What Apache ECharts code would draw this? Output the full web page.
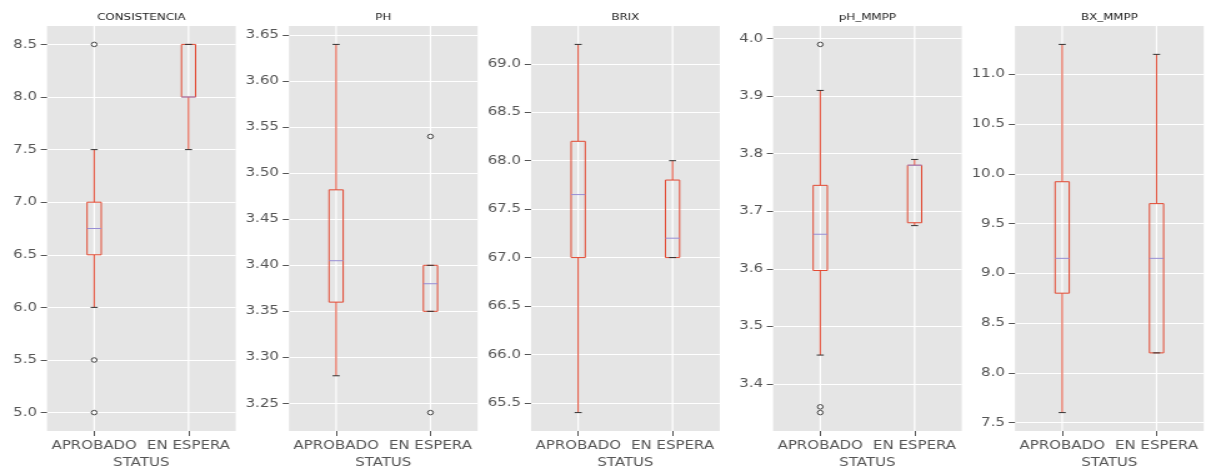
<!DOCTYPE html>
<html>
<head>
<meta charset="utf-8">
<script src="https://cdn.jsdelivr.net/npm/echarts@6/dist/echarts.min.js"></script>
<style>
  html, body { margin: 0; padding: 0; background: #fff; overflow: hidden; }
  /* the figure is laid out narrow and stretched horizontally to the page width */
  #wrap { width: 965px; height: 467px; transform: scaleX(1.2497); transform-origin: 0 0; }
</style>
</head>
<body>
<div id="wrap"></div>
<script>
// Groups on the x axis
const categories = ['APROBADO', 'EN ESPERA'];

// Box summaries per group: [lower whisker, Q1, median, Q3, upper whisker]
const consistenciaBox = [[6.0, 6.5, 6.75, 7.0, 7.5], [7.5, 8.0, 8.0, 8.5, 8.5]];
const phBox = [[3.28, 3.36, 3.405, 3.482, 3.64], [3.35, 3.35, 3.38, 3.40, 3.40]];
const brixBox = [[65.4, 67.0, 67.65, 68.2, 69.2], [67.0, 67.0, 67.2, 67.8, 68.0]];
const phMmppBox = [[3.45, 3.597, 3.66, 3.745, 3.91], [3.675, 3.68, 3.78, 3.78, 3.79]];
const bxMmppBox = [[7.6, 8.8, 9.15, 9.92, 11.3], [8.2, 8.2, 9.15, 9.7, 11.2]];

// Outliers: [group index, value]
const consistenciaOut = [[0, 8.5], [0, 5.5], [0, 5.0]];
const phOut = [[1, 3.54], [1, 3.24]];
const brixOut = [];
const phMmppOut = [[0, 3.99], [0, 3.36], [0, 3.35]];
const bxMmppOut = [];

// Y tick values per panel
const consistenciaTicks = [5.0, 5.5, 6.0, 6.5, 7.0, 7.5, 8.0, 8.5];
const phTicks = [3.25, 3.30, 3.35, 3.40, 3.45, 3.50, 3.55, 3.60, 3.65];
const brixTicks = [65.5, 66.0, 66.5, 67.0, 67.5, 68.0, 68.5, 69.0];
const phMmppTicks = [3.4, 3.5, 3.6, 3.7, 3.8, 3.9, 4.0];
const bxMmppTicks = [7.5, 8.0, 8.5, 9.0, 9.5, 10.0, 10.5, 11.0];

const panels = [
  { title: 'CONSISTENCIA', box: consistenciaBox, out: consistenciaOut, ticks: consistenciaTicks, digits: 1, left: 37.6 },
  { title: 'PH', box: phBox, out: phOut, ticks: phTicks, digits: 2, left: 231.2 },
  { title: 'BRIX', box: brixBox, out: brixOut, ticks: brixTicks, digits: 1, left: 424.9 },
  { title: 'pH_MMPP', box: phMmppBox, out: phMmppOut, ticks: phMmppTicks, digits: 1, left: 618.6 },
  { title: 'BX_MMPP', box: bxMmppBox, out: bxMmppOut, ticks: bxMmppTicks, digits: 1, left: 812.2 }
];

const GRID_W = 151, GRID_TOP = 26, GRID_H = 405;
const BOX_RED = '#E24A33', MEDIAN = '#988ED5', CAP = '#333333', TXT = '#555555';

function renderBox(params, api) {
  const idx = api.value(0);
  const cs = params.coordSys;
  const band = api.size([1, 0])[0];
  const half = band * 0.075;
  const capHalf = band * 0.0375;
  const p = [1, 2, 3, 4, 5].map(function (d) { return api.coord([idx, api.value(d)]); });
  const x = p[0][0];
  const yLow = p[0][1], yQ1 = p[1][1], yMed = p[2][1], yQ3 = p[3][1], yHigh = p[4][1];
  return {
    type: 'group',
    children: [
      { type: 'line', shape: { x1: x, y1: cs.y, x2: x, y2: cs.y + cs.height }, style: { stroke: '#ffffff', lineWidth: 1.2 } },
      { type: 'line', shape: { x1: x, y1: yLow, x2: x, y2: yQ1 }, style: { stroke: BOX_RED, lineWidth: 1 } },
      { type: 'line', shape: { x1: x, y1: yQ3, x2: x, y2: yHigh }, style: { stroke: BOX_RED, lineWidth: 1 } },
      { type: 'rect', shape: { x: x - half, y: yQ3, width: half * 2, height: yQ1 - yQ3 }, style: { fill: 'none', stroke: BOX_RED, lineWidth: 1 } },
      { type: 'line', shape: { x1: x - half, y1: yMed, x2: x + half, y2: yMed }, style: { stroke: MEDIAN, lineWidth: 1 } },
      { type: 'line', shape: { x1: x - capHalf, y1: yLow, x2: x + capHalf, y2: yLow }, style: { stroke: CAP, lineWidth: 1 } },
      { type: 'line', shape: { x1: x - capHalf, y1: yHigh, x2: x + capHalf, y2: yHigh }, style: { stroke: CAP, lineWidth: 1 } }
    ]
  };
}

const option = { animation: false, title: [], grid: [], xAxis: [], yAxis: [], series: [] };

panels.forEach(function (pn, i) {
  // 5% padding around the data extent
  let lo = Infinity, hi = -Infinity;
  pn.box.forEach(function (b) { lo = Math.min(lo, b[0]); hi = Math.max(hi, b[4]); });
  pn.out.forEach(function (o) { lo = Math.min(lo, o[1]); hi = Math.max(hi, o[1]); });
  const pad = (hi - lo) * 0.05;

  option.title.push({
    text: pn.title, left: pn.left + GRID_W / 2, top: 13, textAlign: 'center', padding: 0,
    textStyle: { fontFamily: 'DejaVu Sans', fontSize: 9.5, fontWeight: 'normal', color: '#222222' }
  });
  option.grid.push({
    left: pn.left, top: GRID_TOP, width: GRID_W, height: GRID_H,
    containLabel: false, outerBoundsMode: 'none',
    show: true, backgroundColor: '#E5E5E5', borderWidth: 0
  });
  option.xAxis.push({
    type: 'category', gridIndex: i, data: categories, boundaryGap: true,
    name: 'STATUS', nameLocation: 'middle', nameGap: 24,
    nameTextStyle: { fontFamily: 'DejaVu Sans', fontSize: 12, color: TXT },
    axisLine: { show: false },
    axisTick: { show: true, alignWithLabel: true, length: 5, lineStyle: { color: TXT } },
    axisLabel: { interval: 0, hideOverlap: false, margin: 9, fontFamily: 'DejaVu Sans', fontSize: 12, color: TXT },
    splitLine: { show: false }
  });
  option.yAxis.push({
    type: 'value', gridIndex: i, min: lo - pad, max: hi + pad,
    axisLine: { show: false },
    axisTick: { show: true, length: 5, customValues: pn.ticks, lineStyle: { color: TXT } },
    axisLabel: {
      customValues: pn.ticks, margin: 8, fontFamily: 'DejaVu Sans', fontSize: 12, color: TXT,
      formatter: function (v) { return Number(v).toFixed(pn.digits); }
    },
    splitLine: { show: true, lineStyle: { color: '#ffffff', width: 1 } }
  });
  option.series.push({
    type: 'custom', xAxisIndex: i, yAxisIndex: i,
    data: pn.box.map(function (b, k) { return [k].concat(b); }),
    encode: { x: 0, y: [1, 2, 3, 4, 5] },
    renderItem: renderBox, z: 2
  });
  option.series.push({
    type: 'scatter', xAxisIndex: i, yAxisIndex: i, data: pn.out,
    symbol: 'circle', symbolSize: 4.5, z: 3,
    itemStyle: { color: 'rgba(0,0,0,0)', borderColor: '#222222', borderWidth: 1 }
  });
});

const chart = echarts.init(document.getElementById('wrap'));
chart.setOption(option);
</script>
</body>
</html>
